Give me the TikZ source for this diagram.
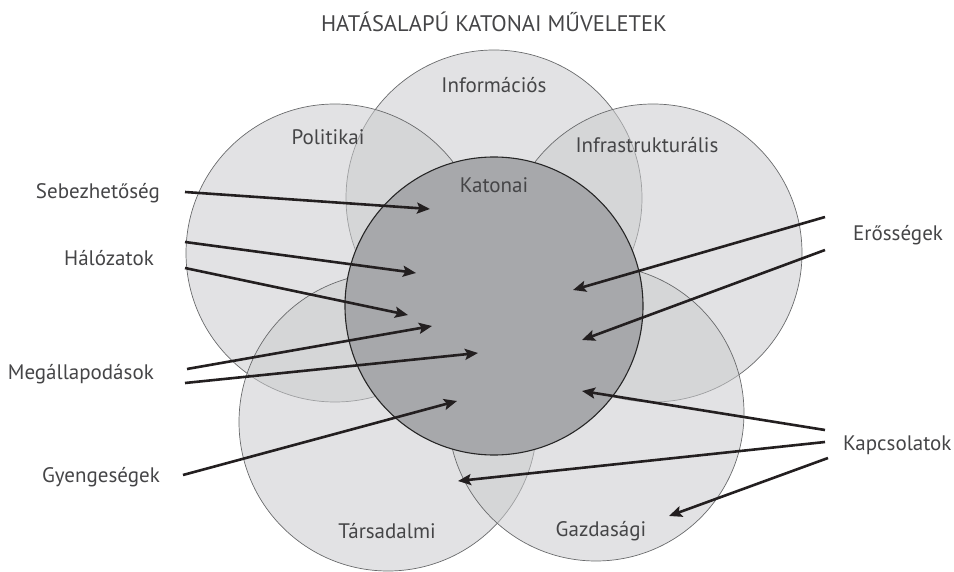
\documentclass[tikz,border=0pt]{standalone}
\usepackage{fontspec}
\setmainfont{PT Sans}
\usepackage{xcolor}
\usetikzlibrary{positioning, arrows.meta}
\definecolor{spherefill}{HTML}{CACBCD}
\definecolor{rimgray}{HTML}{6A6B6D}
\definecolor{corefill}{HTML}{A7A8AB}
\definecolor{arrowink}{HTML}{231F20}
\definecolor{inkgray}{HTML}{454547}
\tikzset{
  sphere/.style={circle,draw=rimgray,line width=0.7pt,fill=spherefill,fill opacity=0.55,inner sep=0pt,minimum size=#1},
  core/.style={circle,draw=black!85,line width=1.1pt,fill=corefill,inner sep=0pt,minimum size=#1},
  tag/.style={font=\fontsize{21}{24}\selectfont,text=inkgray,inner sep=0pt},
  pointer/.style={-{Stealth[length=13pt,width=11pt,inset=2.5pt]},line width=2.6pt,draw=arrowink}
}
\begin{document}
\begin{tikzpicture}[x=1pt,y=-1pt]
\useasboundingbox (0,0) rectangle (954,572);
\node[sphere=296pt] (info) at (494,198) {};
\node[sphere=298pt] (pol) at (335,253) {};
\node[sphere=298pt] (infra) at (653,253) {};
\node[sphere=298pt] (tars) at (388,422) {};
\node[sphere=296pt] (gazd) at (596,413) {};
\node[core=298pt] (kat) at (494,306) {};

\node[tag,font=\fontsize{22.5}{26}\selectfont] (title) at (494,22) {HATÁSALAPÚ KATONAI MŰVELETEK};
\node[tag] (info label) at (494,85) {Információs};
\node[tag] (pol label) at (328,137) {Politikai};
\node[tag] (infra label) at (647,145) {Infrastrukturális};
\node[tag] (kat label) at (494,185) {Katonai};
\node[tag] (tars label) at (387,531) {Társadalmi};
\node[tag] (gazd label) at (601,531) {Gazdasági};

\node[tag,anchor=east] (seb) at (160,193) {Sebezhetőség};
\node[tag,anchor=east] (hal) at (154,258) {Hálózatok};
\node[tag,anchor=east] (meg) at (154,374) {Megállapodások};
\node[tag,anchor=east] (gyen) at (160,477) {Gyengeségek};
\node[tag,anchor=west] (eros) at (853,235) {Erősségek};
\node[tag,anchor=west] (kap) at (843,445) {Kapcsolatok};

\coordinate (seb a) at (185,192);  \coordinate (seb b) at (430,209);
\coordinate (hal a) at (185,242);  \coordinate (hal b) at (416,273);
\coordinate (hal c) at (185,268);  \coordinate (hal d) at (408,315);
\coordinate (meg a) at (187,369);  \coordinate (meg b) at (432,326);
\coordinate (meg c) at (185,383);  \coordinate (meg d) at (478,353);
\coordinate (gyen a) at (183,475); \coordinate (gyen b) at (457,401);
\coordinate (eros a) at (825,217); \coordinate (eros b) at (573,290);
\coordinate (eros c) at (825,250); \coordinate (eros d) at (582,340);
\coordinate (kap a) at (825,430);  \coordinate (kap b) at (582,391);
\coordinate (kap c) at (825,442);  \coordinate (kap d) at (458,481);
\coordinate (kap e) at (828,458);  \coordinate (kap f) at (669,516);

\draw[pointer] (seb a) -- (seb b);
\draw[pointer] (hal a) -- (hal b);
\draw[pointer] (hal c) -- (hal d);
\draw[pointer] (meg a) -- (meg b);
\draw[pointer] (meg c) -- (meg d);
\draw[pointer] (gyen a) -- (gyen b);
\draw[pointer] (eros a) -- (eros b);
\draw[pointer] (eros c) -- (eros d);
\draw[pointer] (kap a) -- (kap b);
\draw[pointer] (kap c) -- (kap d);
\draw[pointer] (kap e) -- (kap f);
\end{tikzpicture}
\end{document}
